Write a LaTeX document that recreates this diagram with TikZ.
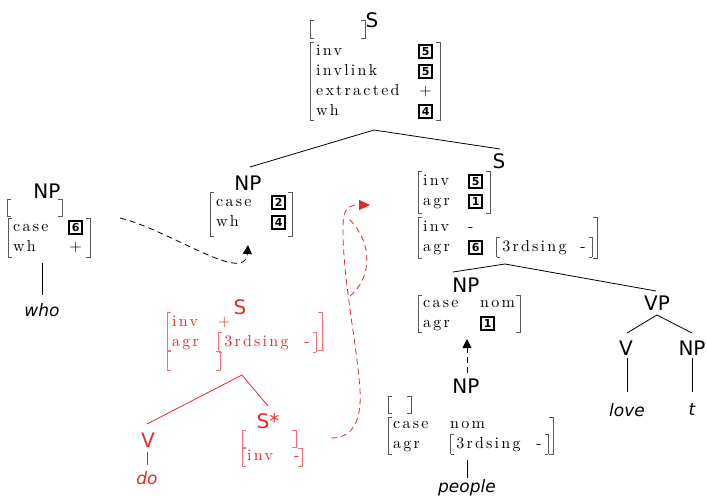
\documentclass[tikz,border=0pt]{standalone}
\usepackage{fontspec}
\setsansfont{DejaVu Sans}
\newfontfamily\avmf[LetterSpace=14,Extension=.otf]{lmroman10-regular}
\usetikzlibrary{arrows.meta}
\definecolor{redc}{RGB}{232,38,46}
\colorlet{redb}{redc!65}
\colorlet{blkb}{black!65}
\colorlet{bcol}{blkb}
\newcommand\avmset{\avmf\fontsize{16}{20}\selectfont}
\newcommand\at[2]{\makebox[#1][l]{#2}}
\newcommand\tg[1]{{\setlength\fboxrule{2pt}\setlength\fboxsep{1pt}\fbox{\rule[-0.3pt]{0pt}{8.8pt}\makebox[9pt]{\fontsize{11}{11}\selectfont\sffamily\bfseries #1}}}}
\newcommand\lbr{{\color{bcol}\rule[-6pt]{0.6pt}{20pt}\rlap{\rule[-6pt]{3.5pt}{0.6pt}}\rule[13.4pt]{3.5pt}{0.6pt}}}
\newcommand\rbr{{\color{bcol}\rule[13.4pt]{3.5pt}{0.6pt}\llap{\rule[-6pt]{3.5pt}{0.6pt}}\rule[-6pt]{0.6pt}{20pt}}}
\newcommand\ib[1][80pt]{\lbr\hspace{2pt}\at{#1}{3rdsing}-\hspace{3pt}\rbr}
\newcommand\pl{\makebox[15pt]{+}}
\newcommand\avmbr[2]{%
 \draw[#2, line width=0.7pt] ([xshift=4pt]#1.north west) -- (#1.north west) -- (#1.south west) -- ([xshift=4pt]#1.south west)
   ([xshift=-4pt]#1.north east) -- (#1.north east) -- (#1.south east) -- ([xshift=-4pt]#1.south east);}
\tikzset{
 brkbox/.style={inner sep=0pt, anchor=north west},
 avmtxt/.style={inner sep=0pt, anchor=north west, font=\avmset},
 redtxt/.style={avmtxt, text=redc, execute at begin node=\colorlet{bcol}{redb}},
 lab/.style={inner sep=0pt, font=\sffamily\fontsize{20}{20}\selectfont},
 word/.style={inner sep=0pt, font=\sffamily\itshape\fontsize{17}{17}\selectfont},
 tree/.style={line width=0.8pt},
 dsh/.style={line width=0.8pt, dash pattern=on 6pt off 4pt},
 tipb/.style={-{Triangle[length=9pt,width=9pt]}},
 tipr/.style={-{Triangle[length=11pt,width=10pt]}},
}
\begin{document}
\begin{tikzpicture}[x=1pt,y=-1pt]
\useasboundingbox (0,0) rectangle (706,496);

% ---------- top S ----------
\node[lab] (s0) at (372,20) {S};
\node[brkbox, minimum width=55pt, minimum height=18pt] (s0e) at (310,20) {};
\avmbr{s0e}{blkb}
\node[brkbox, minimum width=130pt, minimum height=78pt] (s0a) at (310,42) {};
\avmbr{s0a}{blkb}
\node[avmtxt] (s0t) at (316,41) {\begin{tabular}{@{}l@{}l@{}}
\at{102pt}{inv} & \tg{5}\\
\at{102pt}{invlink} & \tg{5}\\
\at{102pt}{extracted} & \pl\\
\at{102pt}{wh} & \tg{4}
\end{tabular}};

% ---------- left NP (who) ----------
\node[lab] (npl) at (47,191) {NP};
\node[brkbox, minimum width=55pt, minimum height=17pt] (nple) at (7,199) {};
\avmbr{nple}{blkb}
\node[brkbox, minimum width=82pt, minimum height=39pt] (npla) at (8,218) {};
\avmbr{npla}{blkb}
\node[avmtxt] (nplt) at (13,217) {\begin{tabular}{@{}l@{}l@{}}
\at{55pt}{case} & \tg{6}\\
\at{55pt}{wh} & \pl
\end{tabular}};
\node[word] (who) at (42,310) {who};
\coordinate (who1) at (42,263); \coordinate (who2) at (42,295);
\draw[tree] (who1) -- (who2);

% ---------- middle NP ----------
\node[lab] (npm) at (248,183) {NP};
\node[brkbox, minimum width=82pt, minimum height=44pt] (npma) at (210,192) {};
\avmbr{npma}{blkb}
\node[avmtxt] (npmt) at (216,192) {\begin{tabular}{@{}l@{}l@{}}
\at{55pt}{case} & \tg{2}\\
\at{55pt}{wh} & \tg{4}
\end{tabular}};

% ---------- right S ----------
\node[lab] (sr) at (499,161) {S};
\node[brkbox, minimum width=72pt, minimum height=42pt] (sra) at (418,171) {};
\avmbr{sra}{blkb}
\node[avmtxt] (srt) at (423,171) {\begin{tabular}{@{}l@{}l@{}}
\at{45pt}{inv} & \tg{5}\\
\at{45pt}{agr} & \tg{1}
\end{tabular}};
\node[brkbox, minimum width=179pt, minimum height=41pt] (srb) at (418,217) {};
\avmbr{srb}{blkb}
\node[avmtxt] (srbt) at (423,217) {\begin{tabular}{@{}l@{}l@{}}
\at{45pt}{inv} & -\\
\at{45pt}{agr} & \tg{6}\hspace{13pt}\ib[78pt]
\end{tabular}};

% ---------- right NP ----------
\node[lab] (npr) at (466,285) {NP};
\node[brkbox, minimum width=102pt, minimum height=37pt] (npra) at (418,295) {};
\avmbr{npra}{blkb}
\node[avmtxt] (nprt) at (423,293) {\begin{tabular}{@{}l@{}l@{}}
\at{57pt}{case} & nom\\
\at{57pt}{agr} & \tg{1}
\end{tabular}};

% ---------- lower NP (people) ----------
\node[lab] (npp) at (466,386) {NP};
\node[brkbox, minimum width=23pt, minimum height=17pt] (nppe) at (388,396) {};
\avmbr{nppe}{blkb}
\node[brkbox, minimum width=165pt, minimum height=37pt] (nppa) at (388,417) {};
\avmbr{nppa}{blkb}
\node[avmtxt] (nppt) at (393,414) {\begin{tabular}{@{}l@{}l@{}}
\at{57pt}{case} & nom\\
\at{57pt}{agr} & \ib
\end{tabular}};
\node[word] (people) at (467,488) {people};
\coordinate (pp1) at (467,460); \coordinate (pp2) at (467,478);
\draw[tree] (pp1) -- (pp2);

% ---------- VP ----------
\node[lab] (vp) at (657,303) {VP};
\node[lab] (vv) at (626,348) {V};
\node[lab] (npt) at (692,348) {NP};
\node[word] (love) at (627,410) {love};
\node[word] (tt) at (692,410) {t};

% ---------- tree lines ----------
\coordinate (a0) at (374,130); \coordinate (a0l) at (250,167); \coordinate (a0r) at (500,149);
\draw[tree] (a0l) -- (a0) -- (a0r);
\coordinate (a1) at (505,264); \coordinate (a1l) at (453,272); \coordinate (a1r) at (656,291);
\draw[tree] (a1l) -- (a1) -- (a1r);
\coordinate (a2) at (657,315); \coordinate (a2l) at (627,333); \coordinate (a2r) at (692,333);
\draw[tree] (a2l) -- (a2) -- (a2r);
\coordinate (lv1) at (627,358); \coordinate (lv2) at (627,392);
\coordinate (tn1) at (692,358); \coordinate (tn2) at (692,392);
\draw[tree] (lv1) -- (lv2) (tn1) -- (tn2);

% ---------- dashed arrows (black) ----------
\coordinate (up1) at (467,373); \coordinate (up2) at (467,339);
\draw[dsh, tipb] (up1) -- (up2);
\coordinate (bk1) at (120,218); \coordinate (bk2) at (248,245);
\draw[dsh, tipb] (bk1) .. controls (170,230) and (245,285) .. (bk2);

% ---------- red auxiliary tree ----------
\node[lab, text=redc] (rs) at (240,307) {S};
\node[brkbox, minimum width=155pt, minimum height=38pt] (rsa) at (167,312) {};
\avmbr{rsa}{redb}
\node[redtxt] (rst) at (172,312) {\begin{tabular}{@{}l@{}l@{}}
\at{46pt}{inv} & +\\
\at{46pt}{agr} & \ib
\end{tabular}};
\node[brkbox, minimum width=53pt, minimum height=19pt] (rse) at (167,351) {};
\avmbr{rse}{redb}
\node[lab, text=redc] (rv) at (148,440) {V};
\node[word, text=redc] (rdo) at (147,478) {do};
\node[lab, text=redc] (rss) at (268,421) {S*};
\node[brkbox, minimum width=54pt, minimum height=17pt] (rsse) at (242,430) {};
\avmbr{rsse}{redb}
\node[brkbox, minimum width=60pt, minimum height=18pt] (rssa) at (242,448) {};
\avmbr{rssa}{redb}
\node[redtxt] (rsst) at (247,446) {\begin{tabular}{@{}l@{}l@{}}
\at{47pt}{inv} & -
\end{tabular}};
\coordinate (a3) at (242,375); \coordinate (a3l) at (147,424); \coordinate (a3r) at (268,406);
\draw[tree, redc] (a3l) -- (a3) -- (a3r);
\coordinate (do1) at (147,452); \coordinate (do2) at (147,465);
\draw[tree, redc] (do1) -- (do2);

% ---------- red dashed arrow ----------
\coordinate (rd1) at (331,438); \coordinate (rd2) at (360,390); \coordinate (rd3) at (343,230);
\coordinate (rd4) at (370,205);
\draw[dsh, redc, tipr] (rd1) .. controls (350,438) and (362,425) .. (rd2)
  .. controls (357,345) and (343,280) .. (rd3)
  .. controls (343,212) and (345,205) .. (rd4);
\coordinate (lp1) at (350,296); \coordinate (lp2) at (347,217);
\draw[dsh, redc] (lp1) .. controls (372,278) and (374,242) .. (lp2);
\end{tikzpicture}
\end{document}
